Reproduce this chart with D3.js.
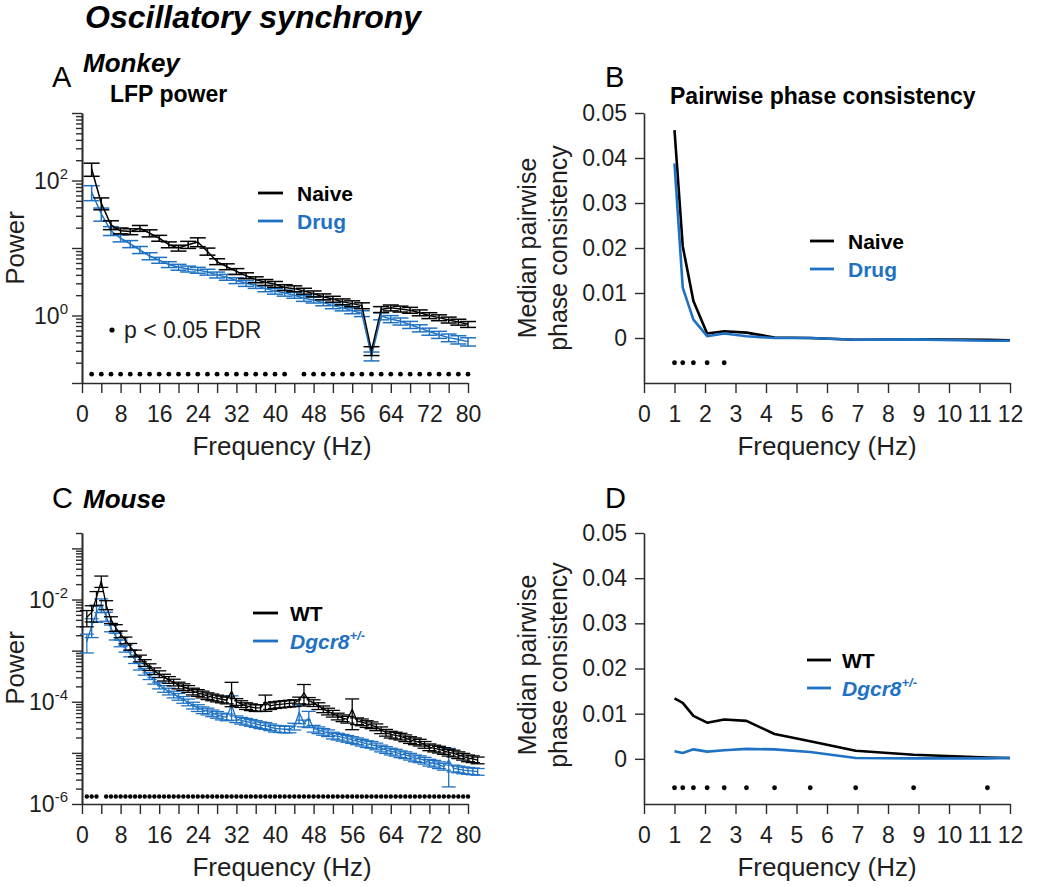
<!DOCTYPE html>
<html><head><meta charset="utf-8">
<script src="https://cdn.jsdelivr.net/npm/d3@7"></script>
<style>body{margin:0;background:#fff}svg{display:block}</style>
</head><body>
<svg id="chart" width="1050" height="887"></svg>
<script>
// ---------------- DATA ----------------
// Panel A: Monkey LFP power
const monkeyFreq = [2,4,6,8,10,12,14,16,18,20,22,24,26,28,30,32,34,36,38,40,42,44,46,48,50,52,54,56,58,60,62,64,66,68,70,72,74,76,78,80];
const naivePower = [148,46,22,18,17.5,19.6,16.6,14,11.2,10,11.2,12.3,8.9,6.3,5.3,4.5,3.9,3.4,3.1,2.9,2.6,2.5,2.3,2.1,1.9,1.75,1.6,1.5,1.4,0.30,1.23,1.3,1.25,1.2,1.1,1.0,0.93,0.86,0.8,0.74];
const drugPower = [67,32,18,14,11.5,9.4,7.6,6.6,5.7,5.2,4.9,4.7,4.4,4.0,3.7,3.3,3.0,2.8,2.5,2.3,2.15,2.0,1.8,1.7,1.55,1.4,1.3,1.18,1.07,0.25,0.98,0.89,0.82,0.73,0.65,0.58,0.52,0.47,0.44,0.41];
const naiveRelSem = [0.22,0.2,0.15,0.1,0.1,0.1,0.12,0.1,0.1,0.1,0.12,0.15,0.12,0.1,0.1,0.1,0.1,0.1,0.1,0.1,0.1,0.1,0.1,0.1,0.1,0.1,0.1,0.1,0.1,0.15,0.1,0.1,0.1,0.1,0.1,0.1,0.1,0.1,0.1,0.1];
const drugRelSem = [0.25,0.22,0.15,0.12,0.12,0.12,0.12,0.1,0.1,0.1,0.1,0.1,0.1,0.1,0.1,0.1,0.1,0.1,0.1,0.1,0.1,0.1,0.1,0.1,0.1,0.1,0.1,0.1,0.1,0.15,0.12,0.12,0.12,0.12,0.12,0.12,0.12,0.13,0.14,0.14];
const monkeySigFreq = [2,4,6,8,10,12,14,16,18,20,22,24,26,28,30,32,34,36,38,40,42,46,48,50,52,54,56,58,60,62,64,66,68,70,72,74,76,78,80];
const monkeySigLevel = 0.135;

// Panel C: Mouse LFP power
const mouseFreq = [1,2,3,4,5,6,7,8,9,10,11,12,13,14,15,16,17,18,19,20,21,22,23,24,25,26,27,28,29,30,31,32,33,34,35,36,37,38,39,40,41,42,43,44,45,46,47,48,49,50,51,52,53,54,55,56,57,58,59,60,61,62,63,64,65,66,67,68,69,70,71,72,73,74,75,76,77,78,79,80,81,82];
const wtPower = [4.5e-3,5.6e-3,1.1e-2,2.3e-2,7.9e-3,4.0e-3,2.8e-3,2.1e-3,1.6e-3,1.2e-3,
  8.9e-4,7.1e-4,5.8e-4,4.8e-4,4.0e-4,3.5e-4,3.0e-4,2.7e-4,2.4e-4,2.1e-4,
  1.95e-4,1.8e-4,1.6e-4,1.5e-4,1.4e-4,1.3e-4,1.23e-4,1.17e-4,1.12e-4,1.07e-4,
  1.6e-4,1.0e-4,9.1e-5,8.3e-5,7.9e-5,7.6e-5,7.6e-5,1.0e-4,8.3e-5,8.7e-5,
  8.9e-5,9.1e-5,9.3e-5,9.5e-5,1.07e-4,1.5e-4,1.05e-4,9.5e-5,8.3e-5,7.2e-5,
  6.5e-5,5.9e-5,5.2e-5,4.8e-5,4.5e-5,7.1e-5,4.2e-5,4.0e-5,3.7e-5,3.5e-5,
  3.2e-5,2.8e-5,2.5e-5,2.3e-5,2.2e-5,2.1e-5,1.95e-5,1.8e-5,1.7e-5,1.6e-5,
  1.45e-5,1.3e-5,1.23e-5,1.17e-5,1.1e-5,1.02e-5,9.8e-6,9.1e-6,8.5e-6,7.9e-6,
  7.6e-6,7.2e-6];
const dgcrPower = [1.5e-3,3.0e-3,5.5e-3,7.9e-3,4.7e-3,2.75e-3,1.9e-3,1.4e-3,1.1e-3,8.9e-4,
  6.6e-4,4.9e-4,3.9e-4,3.2e-4,2.6e-4,2.1e-4,1.8e-4,1.6e-4,1.4e-4,1.26e-4,
  1.1e-4,9.8e-5,8.5e-5,7.6e-5,6.9e-5,6.5e-5,6.0e-5,5.6e-5,5.2e-5,5.0e-5,
  8.7e-5,4.6e-5,4.3e-5,4.1e-5,3.9e-5,3.7e-5,3.5e-5,3.4e-5,3.2e-5,3.0e-5,
  2.95e-5,2.9e-5,2.9e-5,3.3e-5,6.2e-5,3.8e-5,4.8e-5,3.0e-5,2.8e-5,2.6e-5,
  2.45e-5,2.2e-5,2.1e-5,2.0e-5,1.9e-5,1.8e-5,1.7e-5,1.6e-5,1.5e-5,1.45e-5,
  1.35e-5,1.23e-5,1.15e-5,1.07e-5,1.02e-5,9.5e-6,9.1e-6,8.5e-6,7.9e-6,7.6e-6,
  7.1e-6,6.5e-6,6.2e-6,5.8e-6,5.4e-6,7.2e-6,5.0e-6,4.8e-6,4.6e-6,4.5e-6,
  4.4e-6,4.3e-6];
const wtRelSem = [0.35,0.35,0.3,0.25,0.2,0.15,0.15,0.15,0.15,0.15,
  0.15,0.15,0.15,0.15,0.15,0.15,0.15,0.15,0.15,0.15,
  0.15,0.15,0.15,0.15,0.15,0.15,0.15,0.15,0.15,0.15,
  0.5,0.15,0.15,0.15,0.15,0.15,0.15,0.35,0.15,0.15,
  0.15,0.15,0.15,0.15,0.15,0.45,0.15,0.15,0.15,0.15,
  0.15,0.15,0.15,0.15,0.15,0.6,0.15,0.15,0.15,0.15,
  0.15,0.15,0.15,0.15,0.15,0.15,0.15,0.15,0.15,0.15,
  0.15,0.15,0.15,0.15,0.15,0.15,0.15,0.15,0.15,0.15,
  0.15,0.15];
const dgcrRelSem = [0.4,0.4,0.35,0.3,0.2,0.15,0.15,0.15,0.15,0.15,
  0.15,0.15,0.15,0.15,0.15,0.15,0.15,0.15,0.15,0.15,
  0.15,0.15,0.15,0.15,0.15,0.15,0.15,0.15,0.15,0.15,
  0.5,0.15,0.15,0.15,0.15,0.15,0.15,0.15,0.15,0.15,
  0.15,0.15,0.15,0.15,0.4,0.15,0.35,0.15,0.15,0.15,
  0.15,0.15,0.15,0.15,0.15,0.15,0.15,0.15,0.15,0.15,
  0.15,0.15,0.15,0.15,0.15,0.15,0.15,0.15,0.15,0.15,
  0.15,0.15,0.15,0.15,0.15,0.7,0.15,0.15,0.15,0.15,
  0.15,0.15];
const mouseSigFreq = [1,2,3,5,6,7,8,9,10,11,12,13,14,15,16,17,18,19,20,21,22,23,24,25,26,27,28,29,30,31,32,33,34,35,36,37,38,39,40,41,42,43,44,45,46,47,48,49,50,51,52,53,54,55,56,57,58,59,60,61,62,63,64,65,66,67,68,69,70,71,72,73,74,75,76,77,78,79,80];
const mouseSigLevel = 1.4e-6;

// Panels B and D: pairwise phase consistency
const ppcFreq = [1,1.27,1.62,2.07,2.63,3.36,4.28,5.45,6.94,8.84,11.26,12];
const naivePPC = [0.0462,0.0204,0.0082,0.0010,0.0015,0.0012,0.0001,0.0,-0.0004,-0.0003,-0.0004,-0.0005];
const drugPPC  = [0.0388,0.0112,0.0041,0.0004,0.0010,0.0004,0.0,0.0,-0.0004,-0.0003,-0.0006,-0.0006];
const wtPPC    = [0.0134,0.0124,0.0095,0.0080,0.0087,0.0084,0.0055,0.0039,0.0018,0.0009,0.0003,0.0002];
const dgcrPPC  = [0.0017,0.0013,0.0021,0.0016,0.0019,0.0022,0.0021,0.0015,0.0002,0.0001,0.0001,0.0002];
const monkeyPPCSigFreq = [1,1.27,1.62,2.07,2.63];
const mousePPCSigFreq = [1,1.27,1.62,2.07,2.63,3.36,4.28,5.45,6.94,8.84,11.26];
const monkeyPPCSigLevel = -0.0055;
const mousePPCSigLevel = -0.0064;

const powerTicks = [0,4,8,12,16,20,24,28,32,36,40,44,48,52,56,60,64,68,72,76,80];
const ppcXTicks = [0,1,2,3,4,5,6,7,8,9,10,11,12];
const ppcYTicks = [0,0.01,0.02,0.03,0.04,0.05];

// ---------------- STYLE ----------------
const FONT = "'Liberation Sans', Arial, Helvetica, sans-serif";
const BLACK = "#000";
const BLUE = "#1f72c3";
const AXIS = "#2b2b2b";
const TXT = "#1e1e1e";

const svg = d3.select("#chart").style("font-family", FONT);
svg.append("rect").attr("width",1050).attr("height",887).attr("fill","#fff");

function styleAxis(g){
  g.select(".domain").attr("stroke",AXIS).attr("stroke-width",1.6);
  g.selectAll(".tick line").attr("stroke",AXIS).attr("stroke-width",1.4);
  g.selectAll(".tick text").attr("fill",TXT).style("font-size","23px").style("font-family",FONT);
}

function xAxis(x, yPos, ticks, fmt){
  const g = svg.append("g").attr("transform",`translate(0,${yPos})`)
    .call(d3.axisBottom(x).tickValues(ticks).tickSize(10).tickSizeOuter(0).tickPadding(13).tickFormat(fmt));
  styleAxis(g);
}

function logYAxis(y, xPos, lowExp, highExp, labeledExps){
  const [d0,d1] = y.domain();
  const minors = [], majors = [];
  for(let e=lowExp;e<=highExp;e++){
    const base = Math.pow(10,e);
    if(base>=d0*0.999 && base<=d1*1.001) majors.push(base);
    for(let m=2;m<=9;m++){ const v=m*base; if(v>=d0*0.999 && v<=d1*1.001) minors.push(v); }
  }
  const g1 = svg.append("g").attr("transform",`translate(${xPos},0)`)
    .call(d3.axisLeft(y).tickValues(minors).tickSize(6).tickSizeOuter(0).tickFormat(""));
  styleAxis(g1);
  const g2 = svg.append("g").attr("transform",`translate(${xPos},0)`)
    .call(d3.axisLeft(y).tickValues(majors).tickSize(10).tickSizeOuter(0).tickFormat(""));
  styleAxis(g2);
  labeledExps.forEach(e=>{
    const t = svg.append("text").attr("x",xPos-14).attr("y",y(Math.pow(10,e))+8)
      .attr("text-anchor","end").attr("fill",TXT).style("font-size","23px");
    t.append("tspan").text("10");
    t.append("tspan").attr("dy",-10).style("font-size","15px").text(String(e));
  });
}

function text(x,y,str,opts={}){
  const t = svg.append("text").attr("x",x).attr("y",y).text(str)
    .attr("fill",opts.fill||TXT).style("font-size",(opts.size||23)+"px")
    .style("font-weight",opts.weight||"normal").style("font-style",opts.style||"normal")
    .attr("text-anchor",opts.anchor||"start");
  if(opts.rotate) t.attr("transform",`rotate(-90,${x},${y})`);
  return t;
}

function drawSeries(x, y, freq, vals, rel, color, capW, lw){
  const data = freq.map((f,i)=>({f, v:vals[i], r: rel? rel[i] : 0}));
  const g = svg.append("g");
  if(rel){
    data.forEach(d=>{
      const lo = d.v*(1-d.r), hi = d.v*(1+d.r);
      const xx = x(d.f);
      g.append("line").attr("x1",xx).attr("x2",xx).attr("y1",y(lo)).attr("y2",y(hi))
        .attr("stroke",color).attr("stroke-width",lw);
      [lo,hi].forEach(v=>{
        g.append("line").attr("x1",xx-capW/2).attr("x2",xx+capW/2).attr("y1",y(v)).attr("y2",y(v))
          .attr("stroke",color).attr("stroke-width",lw);
      });
    });
  }
  g.append("path").datum(data)
    .attr("d",d3.line().x(d=>x(d.f)).y(d=>y(d.v)))
    .attr("fill","none").attr("stroke",color).attr("stroke-width",lw).attr("stroke-linejoin","round");
}

function sigDots(x, y, freqs, level, r){
  svg.append("g").selectAll("circle").data(freqs).join("circle")
    .attr("cx",d=>x(d)).attr("cy",y(level)).attr("r",r).attr("fill","#000");
}

function legendLine(x1,x2,yy,color){
  svg.append("line").attr("x1",x1).attr("x2",x2).attr("y1",yy).attr("y2",yy)
    .attr("stroke",color).attr("stroke-width",2.8);
}

// ---------------- TITLES ----------------
text(85,28,"Oscillatory synchrony",{size:32,weight:"bold",style:"italic",fill:"#000"});

// ---------------- PANEL A ----------------
const xA = d3.scaleLinear().domain([0,80]).range([82,468]);
const yA = d3.scaleLog().domain([0.1,1000]).range([383,113]);
text(52,87,"A",{size:29,fill:"#000"});
text(83,72,"Monkey",{size:26,weight:"bold",style:"italic",fill:"#000"});
text(110,102,"LFP power",{size:23,weight:"bold",fill:"#000"});
xAxis(xA,383,powerTicks,d=>d%8===0?d:"");
logYAxis(yA,82,-1,3,[0,2]);
drawSeries(xA,yA,monkeyFreq,drugPower,drugRelSem,BLUE,16,1.5);
drawSeries(xA,yA,monkeyFreq,naivePower,naiveRelSem,BLACK,16,1.5);
sigDots(xA,yA,monkeySigFreq,monkeySigLevel,2.4);
text(24,248,"Power",{size:26,anchor:"middle",rotate:true});
text(282,455,"Frequency (Hz)",{size:26,anchor:"middle"});
legendLine(258,283,193,BLACK); text(297,201,"Naive",{size:21,weight:"bold",fill:"#000"});
legendLine(258,283,221,BLUE); text(297,229,"Drug",{size:21,weight:"bold",fill:BLUE});
svg.append("circle").attr("cx",112).attr("cy",330).attr("r",2.6).attr("fill","#000");
text(124,338,"p < 0.05 FDR",{size:23});

// ---------------- PANEL B ----------------
const xB = d3.scaleLinear().domain([0,12]).range([644,1010]);
const yB = d3.scaleLinear().domain([-0.01,0.05]).range([383,113]);
text(605,87,"B",{size:29,fill:"#000"});
text(670,104,"Pairwise phase consistency",{size:23,weight:"bold",fill:"#000"});
xAxis(xB,383,ppcXTicks,d=>d);
{
  const g = svg.append("g").attr("transform","translate(644,0)")
    .call(d3.axisLeft(yB).tickValues(ppcYTicks).tickSize(9).tickSizeOuter(0).tickPadding(8)
      .tickFormat(d=>d===0?"0":d3.format(".2f")(d)));
  styleAxis(g);
}
drawSeries(xB,yB,ppcFreq,naivePPC,null,BLACK,0,2.6);
drawSeries(xB,yB,ppcFreq,drugPPC,null,BLUE,0,2.6);
sigDots(xB,yB,monkeyPPCSigFreq,monkeyPPCSigLevel,2.4);
text(536,248,"Median pairwise",{size:25,anchor:"middle",rotate:true});
text(567,248,"phase consistency",{size:25,anchor:"middle",rotate:true});
text(827,455,"Frequency (Hz)",{size:26,anchor:"middle"});
legendLine(810,834,241,BLACK); text(848,249,"Naive",{size:21,weight:"bold",fill:"#000"});
legendLine(810,834,269,BLUE); text(848,277,"Drug",{size:21,weight:"bold",fill:BLUE});

// ---------------- PANEL C ----------------
const xC = d3.scaleLinear().domain([0,80]).range([82,468]);
const yC = d3.scaleLog().domain([1e-6,0.2]).range([804,533]);
text(52,508,"C",{size:29,fill:"#000"});
text(83,508,"Mouse",{size:26,weight:"bold",style:"italic",fill:"#000"});
xAxis(xC,804,powerTicks,d=>d%8===0?d:"");
logYAxis(yC,82,-6,-1,[-2,-4,-6]);
drawSeries(xC,yC,mouseFreq,dgcrPower,dgcrRelSem,BLUE,14,1.3);
drawSeries(xC,yC,mouseFreq,wtPower,wtRelSem,BLACK,14,1.3);
sigDots(xC,yC,mouseSigFreq,mouseSigLevel,2.2);
text(24,668,"Power",{size:26,anchor:"middle",rotate:true});
text(282,876,"Frequency (Hz)",{size:26,anchor:"middle"});
legendLine(253,278,613,BLACK); text(290,621,"WT",{size:21,weight:"bold",fill:"#000"});
legendLine(253,278,641,BLUE);
{
  const t = text(290,649,"Dgcr8",{size:21,weight:"bold",style:"italic",fill:BLUE});
  t.append("tspan").attr("dy",-9).style("font-size","13px").text("+/-");
}

// ---------------- PANEL D ----------------
const xD = d3.scaleLinear().domain([0,12]).range([644,1010]);
const yD = d3.scaleLinear().domain([-0.01,0.05]).range([804,533]);
text(605,508,"D",{size:29,fill:"#000"});
xAxis(xD,804,ppcXTicks,d=>d);
{
  const g = svg.append("g").attr("transform","translate(644,0)")
    .call(d3.axisLeft(yD).tickValues(ppcYTicks).tickSize(9).tickSizeOuter(0).tickPadding(8)
      .tickFormat(d=>d===0?"0":d3.format(".2f")(d)));
  styleAxis(g);
}
drawSeries(xD,yD,ppcFreq,wtPPC,null,BLACK,0,2.6);
drawSeries(xD,yD,ppcFreq,dgcrPPC,null,BLUE,0,2.6);
sigDots(xD,yD,mousePPCSigFreq,mousePPCSigLevel,2.4);
text(536,665,"Median pairwise",{size:25,anchor:"middle",rotate:true});
text(567,665,"phase consistency",{size:25,anchor:"middle",rotate:true});
text(827,876,"Frequency (Hz)",{size:26,anchor:"middle"});
legendLine(807,831,660,BLACK); text(842,668,"WT",{size:21,weight:"bold",fill:"#000"});
legendLine(807,831,688,BLUE);
{
  const t = text(842,696,"Dgcr8",{size:21,weight:"bold",style:"italic",fill:BLUE});
  t.append("tspan").attr("dy",-9).style("font-size","13px").text("+/-");
}
</script>
</body></html>
